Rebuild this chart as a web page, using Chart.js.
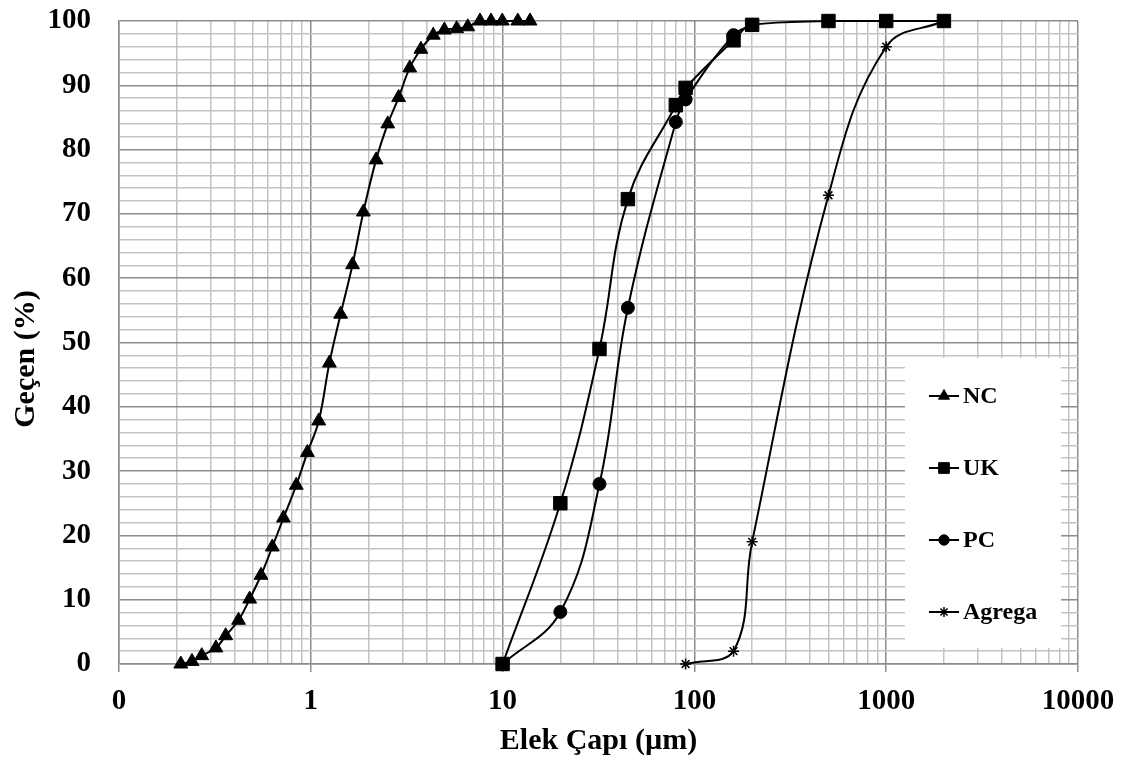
<!DOCTYPE html>
<html>
<head>
<meta charset="utf-8">
<script src="https://cdn.jsdelivr.net/npm/chart.js@4.4.1/dist/chart.umd.min.js"></script>
<style>
  html, body { margin: 0; padding: 0; background: #fff; }
  #wrap { width: 1127px; height: 763px; }
</style>
</head>
<body>
<div id="wrap"><canvas id="chart"></canvas></div>
<script>
// particle size (µm) and cumulative passing (%) per material
const ncSize = [0.21, 0.24, 0.27, 0.32, 0.36, 0.42, 0.48, 0.55, 0.63, 0.72, 0.84,
  0.96, 1.1, 1.25, 1.43, 1.65, 1.88, 2.19, 2.52, 2.87, 3.28, 3.75, 4.35, 4.97,
  5.76, 6.58, 7.62, 8.7, 9.96, 12, 13.9]
const ncPass = [0, 0.4, 1.3, 2.5, 4.4, 6.8, 10.1, 13.8, 18.2, 22.7, 27.8,
  32.9, 37.8, 46.8, 54.4, 62.1, 70.3, 78.4, 84, 88.1, 92.7, 95.6, 97.8, 98.6,
  98.8, 99.1, 100, 100, 100, 100, 100]
const ukSize = [10, 20, 32, 45, 80, 90, 160, 200, 500, 1000, 2000]
const ukPass = [0, 25, 49, 72.3, 86.9, 89.6, 97, 99.4, 100, 100, 100]
const pcSize = [10, 20, 32, 45, 80, 90, 160, 200]
const pcPass = [0, 8.1, 28, 55.4, 84.3, 87.8, 97.8, 99.4]
const agSize = [90, 160, 200, 500, 1000, 2000]
const agPass = [0, 2, 19, 72.9, 96, 100]

const seriesNames = ['NC', 'UK', 'PC', 'Agrega']
const decades = [0.1, 1, 10, 100, 1000, 10000]
const decadeLabels = ['0', '1', '10', '100', '1000', '10000']
const yTitle = 'Geçen (%)'
const xTitle = 'Elek Çapı (µm)'

const serif = "'Liberation Serif', 'Times New Roman', serif"
const majorGrid = '#8c8c8c'
const minorGrid = '#c4c4c4'

const pts = (xs, ys) => xs.map((x, i) => ({ x: x, y: ys[i] }))
const isDecade = v => Math.abs(Math.log10(v) - Math.round(Math.log10(v))) < 1e-6

function line(label, data, style, radius, extra) {
  return Object.assign({
    label: label,
    data: data,
    clip: false,
    borderColor: '#000',
    backgroundColor: '#000',
    borderWidth: 2,
    tension: 0.4,
    pointStyle: style,
    pointRadius: radius,
    pointBackgroundColor: '#000',
    pointBorderColor: '#000',
    pointBorderWidth: 1
  }, extra || {})
}

// legend drawn inside the plot on a white box, plus the rotated y title
const extras = {
  id: 'extras',
  afterDraw(chart) {
    const ctx = chart.ctx
    ctx.save()
    ctx.fillStyle = '#fff'
    ctx.fillRect(905, 358, 156, 290)
    chart.data.datasets.forEach((ds, i) => {
      const y = 396 + i * 72
      ctx.strokeStyle = '#000'
      ctx.lineWidth = 2
      ctx.beginPath()
      ctx.moveTo(929, y)
      ctx.lineTo(959, y)
      ctx.stroke()
      ctx.fillStyle = '#000'
      ctx.lineWidth = ds.pointStyle === 'star' ? 1.5 : 1
      Chart.helpers.drawPoint(ctx, {
        pointStyle: ds.pointStyle,
        radius: ds.pointStyle === 'star' ? 5 : ds.pointRadius * 0.8,
        borderWidth: ctx.lineWidth,
        rotation: 0
      }, 944, y)
      ctx.font = 'bold 24px ' + serif
      ctx.textBaseline = 'middle'
      ctx.textAlign = 'left'
      ctx.fillText(ds.label, 963, y + 1)
    })

    ctx.translate(26, 359)
    ctx.rotate(-Math.PI / 2)
    ctx.font = 'bold 30px ' + serif
    ctx.textAlign = 'center'
    ctx.textBaseline = 'middle'
    ctx.fillStyle = '#000'
    ctx.fillText(yTitle, 0, 0)
    ctx.restore()
  }
}

new Chart(document.getElementById('chart'), {
  type: 'line',
  data: {
    datasets: [
      line(seriesNames[0], pts(ncSize, ncPass), 'triangle', 8),
      line(seriesNames[1], pts(ukSize, ukPass), 'rect', 9.5),
      line(seriesNames[2], pts(pcSize, pcPass), 'circle', 6.5),
      line(seriesNames[3], pts(agSize, agPass), 'star', 5.5, { pointBorderWidth: 1.5 })
    ]
  },
  options: {
    responsive: true,
    maintainAspectRatio: false,
    animation: false,
    layout: { padding: { top: 21, right: 49, left: 0, bottom: 0 } },
    plugins: { legend: { display: false }, tooltip: { enabled: false } },
    scales: {
      x: {
        type: 'logarithmic',
        min: decades[0],
        max: decades[decades.length - 1],
        afterBuildTicks(scale) {
          const ticks = []
          decades.slice(0, -1).forEach(d => {
            for (let k = 1; k <= 9; k++) ticks.push({ value: d * k })
          })
          ticks.push({ value: decades[decades.length - 1] })
          scale.ticks = ticks
        },
        afterFit(scale) { scale.height = 99 },
        grid: {
          color: c => isDecade(c.tick.value) ? majorGrid : minorGrid,
          tickColor: c => isDecade(c.tick.value) ? majorGrid : 'rgba(0,0,0,0)',
          lineWidth: 1.5,
          tickLength: 8
        },
        border: { color: majorGrid, width: 1.5 },
        ticks: {
          autoSkip: false,
          maxRotation: 0,
          padding: 12,
          color: '#000',
          font: { family: serif, size: 29, weight: 'bold' },
          callback: v => {
            const i = decades.indexOf(v)
            return i >= 0 ? decadeLabels[i] : ''
          }
        },
        title: {
          display: true,
          text: xTitle,
          color: '#000',
          font: { family: serif, size: 30, weight: 'bold' },
          padding: { top: 0, bottom: 4 }
        }
      },
      y: {
        min: 0,
        max: 100,
        afterFit(scale) {
          scale.width = 119
          scale.paddingTop = 0
          scale.paddingBottom = 0
        },
        grid: {
          color: c => c.tick.value % 10 === 0 ? majorGrid : minorGrid,
          lineWidth: 1.5,
          drawTicks: false
        },
        border: { color: majorGrid, width: 1.5 },
        ticks: {
          stepSize: 2,
          autoSkip: false,
          padding: 28,
          color: '#000',
          font: { family: serif, size: 29, weight: 'bold' },
          callback: v => v % 10 === 0 ? String(v) : ''
        }
      }
    }
  },
  plugins: [extras]
})
</script>
</body>
</html>
